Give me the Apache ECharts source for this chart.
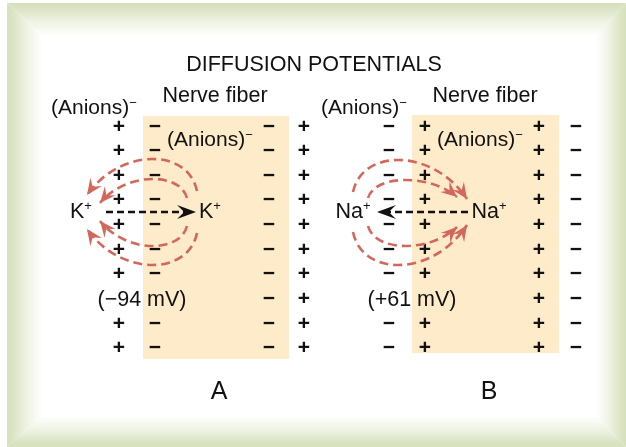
<!DOCTYPE html>
<html><head><meta charset="utf-8">
<script src="https://cdn.jsdelivr.net/npm/echarts@6/dist/echarts.min.js"></script>
<style>html,body{margin:0;padding:0;background:#fff}#c{width:626px;height:447px}</style>
</head><body><div id="c"></div>
<script>
// ---- diagram data (axis units = canvas units) ----
const title = 'DIFFUSION POTENTIALS';
const panelLetters = ['A', 'B'];
const rowY = [127, 151, 176, 200, 225, 250, 274, 299, 324, 348];
const colXA = [119, 155, 269, 304];
const colXB = [389, 425, 539, 576];
const chargesA_outerLeft  = ['+','+','+','+','+','+','+','','+','+'];
const chargesA_innerLeft  = ['−','−','−','−','−','−','−','','−','−'];
const chargesA_innerRight = ['−','−','−','−','−','−','−','−','−','−'];
const chargesA_outerRight = ['+','+','+','+','+','+','+','+','+','+'];
const chargesB_outerLeft  = ['−','−','−','−','−','−','−','','−','−'];
const chargesB_innerLeft  = ['+','+','+','+','+','+','+','','+','+'];
const chargesB_innerRight = ['+','+','+','+','+','+','+','+','+','+'];
const chargesB_outerRight = ['−','−','−','−','−','−','−','−','−','−'];
const fiberBoxes = [[143, 116, 289, 359], [412, 115, 559, 353]];
const potentials = ['(−94 mV)', '(+61 mV)'];
const ions = ['K', 'Na'];
// black dashed net-diffusion arrows [x0, y0, xTip, yTip]
const netArrows = [[106, 212, 196, 212], [468, 212, 377, 212]];
// red dashed diffusion arcs [xStart, yStart, xTip, yTip, apexY]
const arcsA = [[197, 191, 87, 195, 159], [187, 198, 100, 203, 179], [197, 233, 87, 229, 265], [187, 226, 100, 221, 246]];
const arcsB = [[353, 192, 467, 199, 160], [368, 198, 457, 197, 180], [353, 232, 467, 225, 265], [368, 226, 457, 227, 246]];

const FONT = '"Liberation Sans", Arial, Helvetica, sans-serif';
const INK = '#111';
const RED = '#d4675b';
const GREEN = '#d7e1bc';

// ---- build charge items ----
const charges = [];
function addCharges(cols, xs) {
  cols.forEach((col, ci) => col.forEach((s, ri) => { if (s) charges.push([xs[ci], rowY[ri], s]); }));
}
addCharges([chargesA_outerLeft, chargesA_innerLeft, chargesA_innerRight, chargesA_outerRight], colXA);
addCharges([chargesB_outerLeft, chargesB_innerLeft, chargesB_innerRight, chargesB_outerRight], colXB);

// ---- text labels ----
const TS = 21.5;
const labels = [
  { v: [314, 65], text: title, size: TS, align: 'center' },
  { v: [215, 96], text: 'Nerve fiber', size: TS, align: 'center' },
  { v: [485, 96], text: 'Nerve fiber', size: TS, align: 'center' },
  { v: [51, 108], text: '{m|(Anions)}{s|−}', size: TS - 0.5, align: 'left' },
  { v: [321, 108], text: '{m|(Anions)}{s|−}', size: TS - 0.5, align: 'left' },
  { v: [167, 140], text: '{m|(Anions)}{s|−}', size: TS - 0.5, align: 'left' },
  { v: [437, 140], text: '{m|(Anions)}{s|−}', size: TS - 0.5, align: 'left' },
  { v: [81, 212], text: '{m|' + ions[0] + '}{s|+}', size: TS, align: 'center' },
  { v: [210, 212], text: '{m|' + ions[0] + '}{s|+}', size: TS, align: 'center' },
  { v: [353, 212], text: '{m|' + ions[1] + '}{s|+}', size: TS, align: 'center' },
  { v: [489, 212], text: '{m|' + ions[1] + '}{s|+}', size: TS, align: 'center' },
  { v: [142, 300], text: potentials[0], size: TS, align: 'center' },
  { v: [412, 300], text: potentials[1], size: TS, align: 'center' },
  { v: [219, 392], text: panelLetters[0], size: 25, align: 'center' },
  { v: [489, 392], text: panelLetters[1], size: 25, align: 'center' }
];

function arrowHead(tip, ang, L, W, fill) {
  const c = Math.cos(ang), s = Math.sin(ang);
  const pt = (dx, dy) => [tip[0] + dx * c - dy * s, tip[1] + dx * s + dy * c];
  return { type: 'polygon', shape: { points: [pt(0, 0), pt(-L, -W / 2), pt(-L * 0.62, 0), pt(-L, W / 2)] }, style: { fill: fill } };
}
function grad(x, y, x2, y2) {
  return { type: 'linear', x: x, y: y, x2: x2, y2: y2, global: false,
    colorStops: [{ offset: 0, color: GREEN }, { offset: 0.15, color: '#dae3c2' }, { offset: 0.55, color: '#eef2e3' }, { offset: 1, color: '#ffffff' }] };
}
const O = [7, 3, 626, 447], I = [42, 36, 596, 416];

const chart = echarts.init(document.getElementById('c'), null, { renderer: 'canvas' });
chart.setOption({
  animation: false,
  backgroundColor: '#fff',
  graphic: [
    { type: 'rect', z: -10, silent: true, shape: { x: I[0] - 1, y: I[1] - 1, width: I[2] - I[0] + 2, height: I[3] - I[1] + 2 }, style: { fill: '#fff' } },
    { type: 'polygon', z: -10, silent: true, shape: { points: [[O[0], O[1]], [I[0], I[1]], [I[0], I[3]], [O[0], O[3]]] }, style: { fill: grad(0, 0, 1, 0) } },
    { type: 'polygon', z: -10, silent: true, shape: { points: [[O[0], O[1]], [O[2], O[1]], [I[2], I[1]], [I[0], I[1]]] }, style: { fill: grad(0, 0, 0, 1) } },
    { type: 'polygon', z: -10, silent: true, shape: { points: [[O[2], O[1]], [O[2], O[3]], [I[2], I[3]], [I[2], I[1]]] }, style: { fill: grad(1, 0, 0, 0) } },
    { type: 'polygon', z: -10, silent: true, shape: { points: [[O[0], O[3]], [O[2], O[3]], [I[2], I[3]], [I[0], I[3]]] }, style: { fill: grad(0, 1, 0, 0) } }
  ],
  grid: { left: 0, right: 0, top: 0, bottom: 0 },
  xAxis: { type: 'value', min: 0, max: 626, show: false },
  yAxis: { type: 'value', min: 0, max: 447, inverse: true, show: false },
  series: [
    {
      type: 'custom', name: 'fiber', z: 1, data: fiberBoxes,
      renderItem: (p, api) => {
        const a = api.coord([api.value(0), api.value(1)]), b = api.coord([api.value(2), api.value(3)]);
        return { type: 'rect', shape: { x: a[0], y: a[1], width: b[0] - a[0], height: b[1] - a[1] }, style: { fill: '#fdebca' } };
      }
    },
    {
      type: 'custom', name: 'charges', z: 3, data: charges,
      renderItem: (p, api) => {
        const a = api.coord([api.value(0), api.value(1)]);
        const s = charges[p.dataIndex][2];
        return { type: 'text', x: a[0], y: a[1], style: { text: s, fill: INK, font: 'bold 21px ' + FONT, align: 'center', verticalAlign: 'middle' } };
      }
    },
    {
      type: 'custom', name: 'arcs', z: 4, data: arcsA.concat(arcsB),
      renderItem: (p, api) => {
        const p0 = api.coord([api.value(0), api.value(1)]);
        const p3 = api.coord([api.value(2), api.value(3)]);
        const apex = api.coord([0, api.value(4)])[1];
        const cy = (apex - 0.125 * (p0[1] + p3[1])) / 0.75;
        const dx = p3[0] - p0[0];
        const c1 = [p0[0] + 0.08 * dx, cy], c2 = [p3[0] - 0.3 * dx, cy];
        const ang = Math.atan2(p3[1] - c2[1], p3[0] - c2[0]);
        return { type: 'group', children: [
          { type: 'bezierCurve', shape: { x1: p0[0], y1: p0[1], x2: p3[0], y2: p3[1], cpx1: c1[0], cpy1: c1[1], cpx2: c2[0], cpy2: c2[1] },
            style: { stroke: RED, lineWidth: 2.6, lineDash: [9, 5], fill: null } },
          arrowHead(p3, ang, 16, 14, RED)
        ] };
      }
    },
    {
      type: 'custom', name: 'net', z: 5, data: netArrows,
      renderItem: (p, api) => {
        const a = api.coord([api.value(0), api.value(1)]), b = api.coord([api.value(2), api.value(3)]);
        const ang = Math.atan2(b[1] - a[1], b[0] - a[0]);
        const e = [b[0] - 10 * Math.cos(ang), b[1] - 10 * Math.sin(ang)];
        return { type: 'group', children: [
          { type: 'line', shape: { x1: a[0], y1: a[1], x2: e[0], y2: e[1] }, style: { stroke: INK, lineWidth: 2.7, lineDash: [7, 4] } },
          arrowHead(b, ang, 19, 14, INK)
        ] };
      }
    },
    {
      type: 'custom', name: 'labels', z: 6, data: labels.map(l => l.v),
      renderItem: (p, api) => {
        const a = api.coord([api.value(0), api.value(1)]);
        const l = labels[p.dataIndex];
        return { type: 'text', x: a[0], y: a[1], style: {
          text: l.text, fill: INK, font: l.size + 'px ' + FONT, align: l.align, verticalAlign: 'middle',
          rich: { m: { fontSize: l.size, fontFamily: FONT, fill: INK, lineHeight: l.size + 2 },
                  s: { fontSize: Math.round(l.size * 0.62), fontFamily: FONT, fill: INK, verticalAlign: 'top', lineHeight: l.size + 2 } } } };
      }
    }
  ]
});
</script></body></html>
